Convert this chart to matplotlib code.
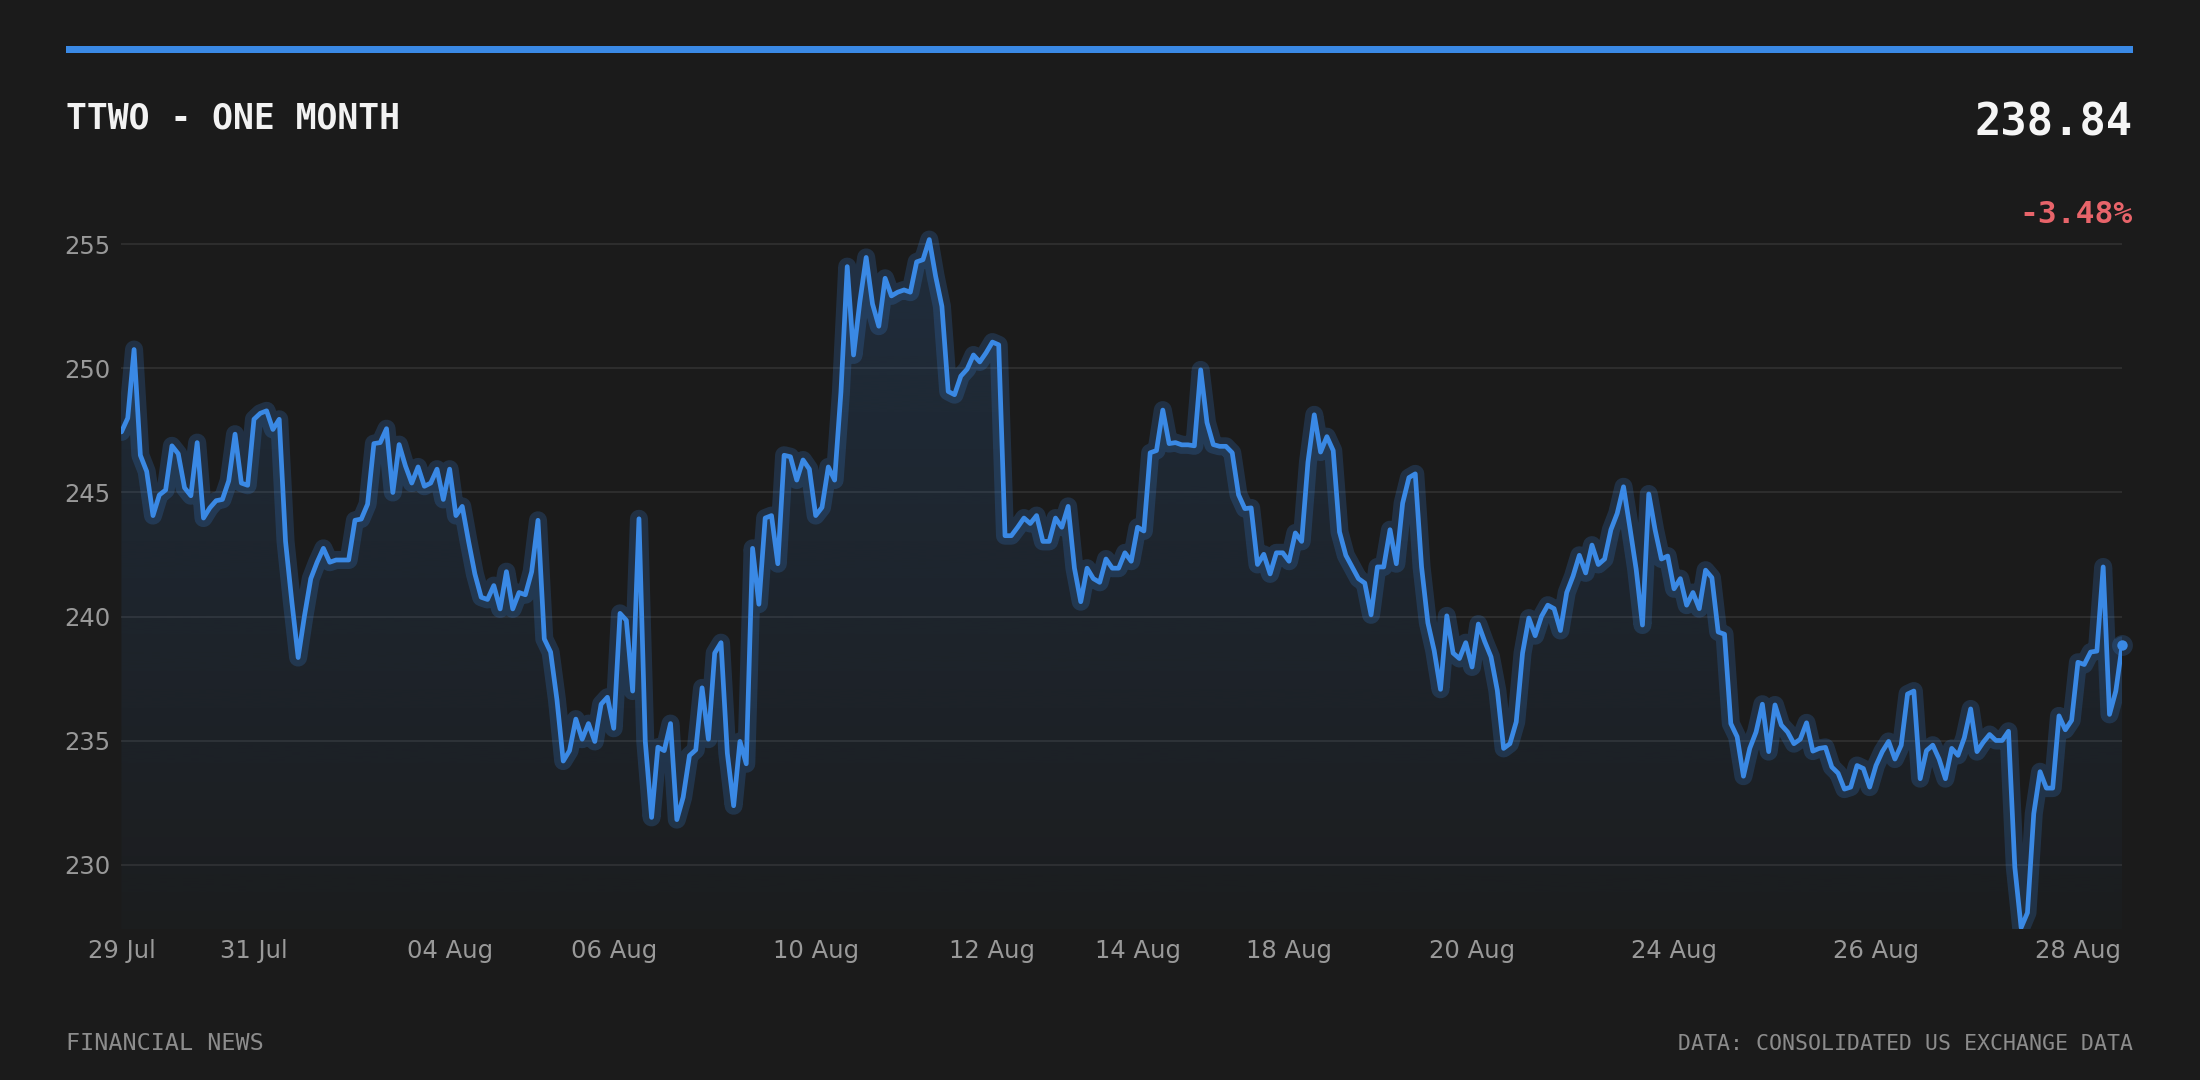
import numpy as np
import matplotlib
matplotlib.use("Agg")
import matplotlib.pyplot as plt
from matplotlib.patches import Rectangle
from matplotlib.colors import to_rgb

# price path, one value per sample
prices = [
    247.44, 248.00, 250.76, 246.50, 245.85, 244.07, 244.90, 245.10, 246.88, 246.56,
    245.19, 244.87, 247.01, 243.97, 244.38, 244.67, 244.72, 245.47, 247.35, 245.38,
    245.29, 247.95, 248.19, 248.29, 247.54, 247.95, 243.03, 240.60, 238.35, 240.03,
    241.53, 242.19, 242.75, 242.19, 242.28, 242.28, 242.28, 243.88, 243.93, 244.53,
    246.97, 247.01, 247.57, 245.00, 246.93, 246.07, 245.38, 246.03, 245.25, 245.38,
    245.94, 244.72, 245.94, 244.07, 244.44, 243.03, 241.72, 240.78, 240.69, 241.25,
    240.31, 241.81, 240.31, 240.97, 240.88, 241.81, 243.88, 239.10, 238.57, 236.66,
    234.18, 234.60, 235.87, 235.06, 235.69, 234.97, 236.47, 236.75, 235.50, 240.13,
    239.85, 237.00, 243.94, 234.97, 231.91, 234.74, 234.60, 235.69, 231.82, 232.72,
    234.40, 234.63, 237.13, 235.06, 238.53, 238.95, 234.50, 232.38, 234.97, 234.07,
    242.75, 240.50, 243.97, 244.07, 242.13, 246.50, 246.44, 245.50, 246.31, 245.94,
    244.07, 244.40, 246.03, 245.50, 249.04, 254.10, 250.54, 252.69, 254.47, 252.60,
    251.70, 253.63, 252.92, 253.07, 253.16, 253.07, 254.29, 254.38, 255.19, 253.72,
    252.50, 249.07, 248.94, 249.69, 249.97, 250.54, 250.26, 250.63, 251.06, 250.95,
    243.26, 243.26, 243.60, 243.97, 243.75, 244.07, 243.03, 243.03, 243.97, 243.60,
    244.44, 241.95, 240.60, 241.95, 241.53, 241.38, 242.32, 241.95, 241.95, 242.57,
    242.23, 243.60, 243.45, 246.60, 246.69, 248.32, 246.97, 247.01, 246.92, 246.92,
    246.88, 249.94, 247.82, 246.93, 246.86, 246.86, 246.60, 244.91, 244.35, 244.38,
    242.10, 242.51, 241.72, 242.57, 242.57, 242.23, 243.37, 243.03, 246.22, 248.13,
    246.63, 247.25, 246.69, 243.41, 242.47, 242.00, 241.53, 241.35, 240.07, 242.00,
    242.00, 243.50, 242.13, 244.57, 245.60, 245.75, 242.00, 239.75, 238.63, 237.07,
    240.03, 238.53, 238.31, 238.95, 237.97, 239.70, 239.00, 238.38, 237.03, 234.69,
    234.88, 235.76, 238.53, 239.94, 239.23, 240.01, 240.46, 240.32, 239.44, 240.97,
    241.63, 242.47, 241.76, 242.88, 242.10, 242.32, 243.50, 244.16, 245.23, 243.60,
    241.91, 239.66, 244.94, 243.50, 242.32, 242.44, 241.12, 241.53, 240.46, 240.97,
    240.32, 241.87, 241.57, 239.38, 239.29, 235.69, 235.16, 233.57, 234.69, 235.35,
    236.47, 234.56, 236.44, 235.63, 235.35, 234.88, 235.06, 235.72, 234.58, 234.69,
    234.73, 233.94, 233.69, 233.05, 233.13, 234.00, 233.88, 233.13, 234.00, 234.56,
    234.97, 234.26, 234.82, 236.88, 237.00, 233.47, 234.60, 234.82, 234.26, 233.47,
    234.69, 234.41, 235.12, 236.28, 234.56, 234.94, 235.25, 235.01, 235.01, 235.38,
    229.90, 227.47, 228.07, 232.06, 233.75, 233.09, 233.09, 236.00, 235.44, 235.82,
    238.16, 238.07, 238.57, 238.61, 242.00, 236.06, 237.00, 238.84,
]

# sample index where each date label sits
tick_idx = [0, 21, 52, 78, 110, 138, 161, 185, 214, 246, 278, 310]
tick_labels = ["29 Jul", "31 Jul", "04 Aug", "06 Aug", "10 Aug", "12 Aug",
               "14 Aug", "18 Aug", "20 Aug", "24 Aug", "26 Aug", "28 Aug"]
yticks = [230, 235, 240, 245, 250, 255]

title = "TTWO - ONE MONTH"
last_price = "238.84"
change = "-3.48%"
source_left = "FINANCIAL NEWS"
source_right = "DATA: CONSOLIDATED US EXCHANGE DATA"

BG = "#1b1b1b"
BLUE = "#3a89e5"
RED = "#e8646a"
GRID = "#313131"
MUTED = "#999999"
MONO = "DejaVu Sans Mono"

y_lo, y_hi = 227.4, 256.0

fig = plt.figure(figsize=(22, 10.8), dpi=100, facecolor=BG)
ax = fig.add_axes([0.0552, 0.1395, 0.9094, 0.6573])
ax.set_facecolor(BG)

x = np.arange(len(prices))
y = np.array(prices)

# gradient area under the line, clipped to the filled shape
area = ax.fill_between(x, y, y_lo, color="none", lw=0)
grad = np.zeros((256, 1, 4))
grad[..., :3] = to_rgb(BLUE)
grad[:, 0, 3] = np.linspace(0.02, 0.17, 256)
img = ax.imshow(grad, extent=[0, len(prices) - 1, y_lo, y_hi], origin="lower",
                aspect="auto", zorder=1, interpolation="bicubic")
img.set_clip_path(area.get_paths()[0], transform=ax.transData)

# glow + line
ax.plot(x, y, color=BLUE, lw=13, alpha=0.2, solid_joinstyle="round",
        solid_capstyle="round", zorder=3)
ax.plot(x, y, color=BLUE, lw=3.4, solid_joinstyle="round",
        solid_capstyle="round", zorder=4)
ax.plot(x[-1], y[-1], "o", ms=15, color=BLUE, alpha=0.2, mew=0, zorder=3, clip_on=False)
ax.plot(x[-1], y[-1], "o", ms=7.5, color=BLUE, mew=0, zorder=5, clip_on=False)

ax.set_xlim(0, len(prices) - 1)
ax.set_ylim(y_lo, y_hi)
ax.set_xticks(tick_idx)
ax.set_xticklabels(tick_labels)
ax.set_yticks(yticks)
ax.grid(axis="y", color=GRID, lw=1.2)
ax.set_axisbelow(True)
ax.tick_params(axis="both", length=0, labelsize=17.5, colors=MUTED)
ax.tick_params(axis="x", pad=7)
ax.tick_params(axis="y", pad=8)
for s in ax.spines.values():
    s.set_visible(False)

# header
fig.patches.append(Rectangle((0.03, 0.9512), 0.9395, 0.0062, transform=fig.transFigure,
                             color=BLUE, lw=0))
fig.text(0.03, 0.8806, title, fontsize=25, weight="bold", color="#f2f2f2",
         family=MONO, va="baseline", ha="left")
fig.text(0.9695, 0.8745, last_price, fontsize=31.5, weight="bold", color="#f5f5f5",
         family=MONO, va="baseline", ha="right")
fig.text(0.9695, 0.7935, change, fontsize=22.5, weight="bold", color=RED,
         family=MONO, va="baseline", ha="right")

# footer
fig.text(0.03, 0.0278, source_left, fontsize=16.8, color="#8c8c8c",
         family=MONO, va="baseline", ha="left")
fig.text(0.9695, 0.0278, source_right, fontsize=15.5, color="#8c8c8c",
         family=MONO, va="baseline", ha="right")

fig.savefig("out.png", dpi=100, facecolor=BG)
